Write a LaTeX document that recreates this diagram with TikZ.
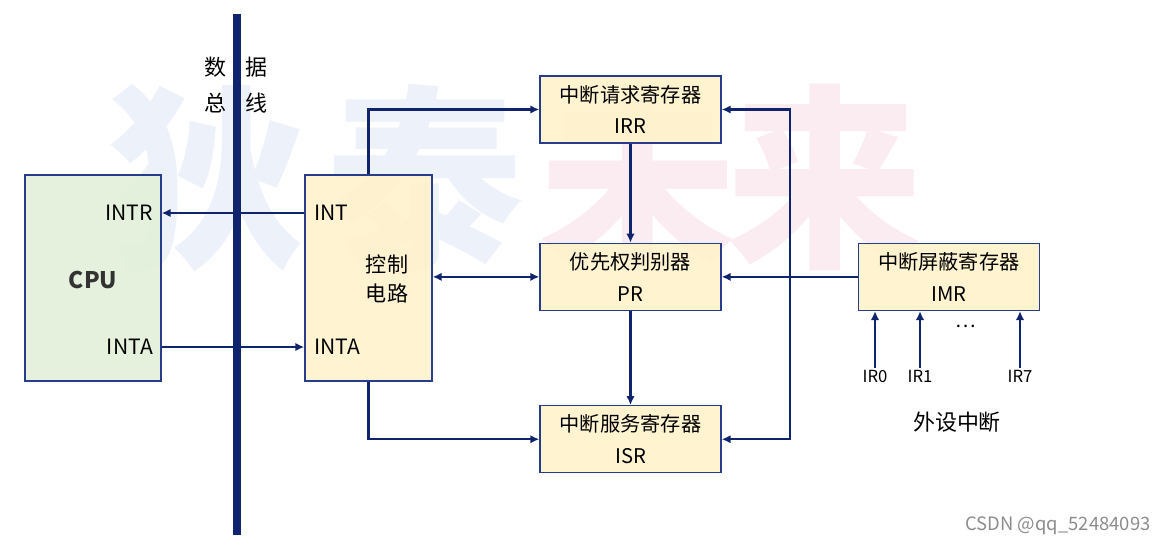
\documentclass[tikz,border=0pt]{standalone}
\usepackage{fontspec}
\setmainfont{Noto Sans CJK SC}
\usepackage{tikz}
\usetikzlibrary{positioning}
\usetikzlibrary{arrows.meta}

\definecolor{navy}{RGB}{16,36,110}
\definecolor{boxline}{RGB}{40,60,140}
\definecolor{yellowfill}{RGB}{255,242,204}
\definecolor{greenfill}{RGB}{226,240,217}
\definecolor{wmblue}{RGB}{236,241,250}
\definecolor{wmpink}{RGB}{250,236,240}

\begin{document}
\begin{tikzpicture}[x=0.02cm, y=-0.02cm,
                          >={Latex[length=1.8mm,width=1.7mm]},
                          regbox/.style={rectangle, draw=boxline, fill=yellowfill, fill opacity=0.92, text opacity=1, thick, minimum width=3.62cm, minimum height=1.34cm, align=center, font=\fontsize{11.5}{18}\selectfont},
                          bigbox/.style={rectangle, draw=boxline, thick, fill opacity=0.9, text opacity=1, minimum height=4.12cm},
                          pinlabel/.style={inner sep=1pt, font=\fontsize{12}{14}\selectfont},
                          irlabel/.style={inner sep=1pt, font=\fontsize{9.5}{11}\selectfont},
                          wire/.style={draw=navy, line width=1.4pt},
                          watermark/.style={font=\fontsize{112}{112}\selectfont\bfseries},
                      ]
                      \useasboundingbox (0,0) rectangle (1157,547);

                      % Watermark
                      \node[watermark, text=wmblue]  (wm_1) at (207,178) {狄};
                      \node[watermark, text=wmblue]  (wm_2) at (425,178) {泰};
                      \node[watermark, text=wmpink]  (wm_3) at (638,178) {未};
                      \node[watermark, text=wmpink]  (wm_4) at (825,178) {来};

                      % Nodes
                      \node[bigbox, fill=greenfill, minimum width=2.72cm]  (cpu)  at (93,278)  {};
                      \node[bigbox, fill=yellowfill, minimum width=2.54cm] (ctrl) at (368.5,278) {};

                      \node[regbox]      (irr)    at (630.5,109.5)   {中断请求寄存器\\IRR};
                      \node[regbox]      (pr)     [below=1.98cm of irr]   {优先权判别器\\PR};
                      \node[regbox]      (isr)    [below=1.88cm of pr]   {中断服务寄存器\\ISR};
                      \node[regbox]      (imr)    [right=2.72cm of pr]   {中断屏蔽寄存器\\IMR};

                      \node[font=\fontsize{13}{16}\selectfont\bfseries, text=black!80] (cpu_name) at (93,280) {CPU};
                      \node[pinlabel, anchor=east]   (intr)     at (155,213)   {INTR};
                      \node[pinlabel, anchor=east]   (inta_cpu) at (155,347)   {INTA};
                      \node[pinlabel, anchor=west]   (int)      at (312,213)   {INT};
                      \node[pinlabel, anchor=west]   (inta)     at (312,347)   {INTA};
                      \node[align=center, font=\fontsize{12}{17}\selectfont] (ctrl_name) at (387,279) {控制\\电路};

                      \node[font=\fontsize{12.5}{18}\selectfont] (bus_name_1) at (215,67)  {数};
                      \node[font=\fontsize{12.5}{18}\selectfont] (bus_name_2) at (256,67)  {据};
                      \node[font=\fontsize{12.5}{18}\selectfont] (bus_name_3) at (215,103) {总};
                      \node[font=\fontsize{12.5}{18}\selectfont] (bus_name_4) at (256,103) {线};

                      \node[irlabel]  (ir0)   at (875,376)   {IR0};
                      \node[irlabel]  (ir1)   at (920,376)   {IR1};
                      \node[irlabel]  (ir7)   at (1020,376)  {IR7};
                      \node[font=\fontsize{11}{12}\selectfont] (dots) at (966,326) {\dots};
                      \node[font=\fontsize{12.5}{16}\selectfont] (periph) at (957,422) {外设中断};

                      \node[font=\fontsize{10.5}{12}\selectfont, text=black!45] (credit) at (1058,526) {CSDN @qq\_52484093};

                      \coordinate (bus_top) at (237,14);
                      \coordinate (bus_bottom) at (237,535);
                      \coordinate (back_bus) at (790,270);

                      %Lines
                      \draw[navy, line width=5pt] (bus_top) -- (bus_bottom);
                      \draw[wire, ->] (ctrl.west |- int.west) -- (cpu.east |- int.west);
                      \draw[wire, ->] (cpu.east |- inta.west) -- (ctrl.west |- inta.west);
                      \draw[wire, ->] (ctrl.north) |- (irr.west);
                      \draw[wire, ->] (ctrl.south) |- (isr.west);
                      \draw[wire, <->] (ctrl.east |- pr.west) -- (pr.west);
                      \draw[wire, ->] (irr.south) -- (pr.north);
                      \draw[wire, ->] (pr.south) -- (isr.north);
                      \draw[wire, <->] (irr.east) -| (back_bus) |- (isr.east);
                      \draw[wire, ->] (imr.west) -- (pr.east);
                      \draw[wire, ->] (ir0.north) -- (ir0.north |- imr.south);
                      \draw[wire, ->] (ir1.north) -- (ir1.north |- imr.south);
                      \draw[wire, ->] (ir7.north) -- (ir7.north |- imr.south);
                  \end{tikzpicture}
\end{document}
